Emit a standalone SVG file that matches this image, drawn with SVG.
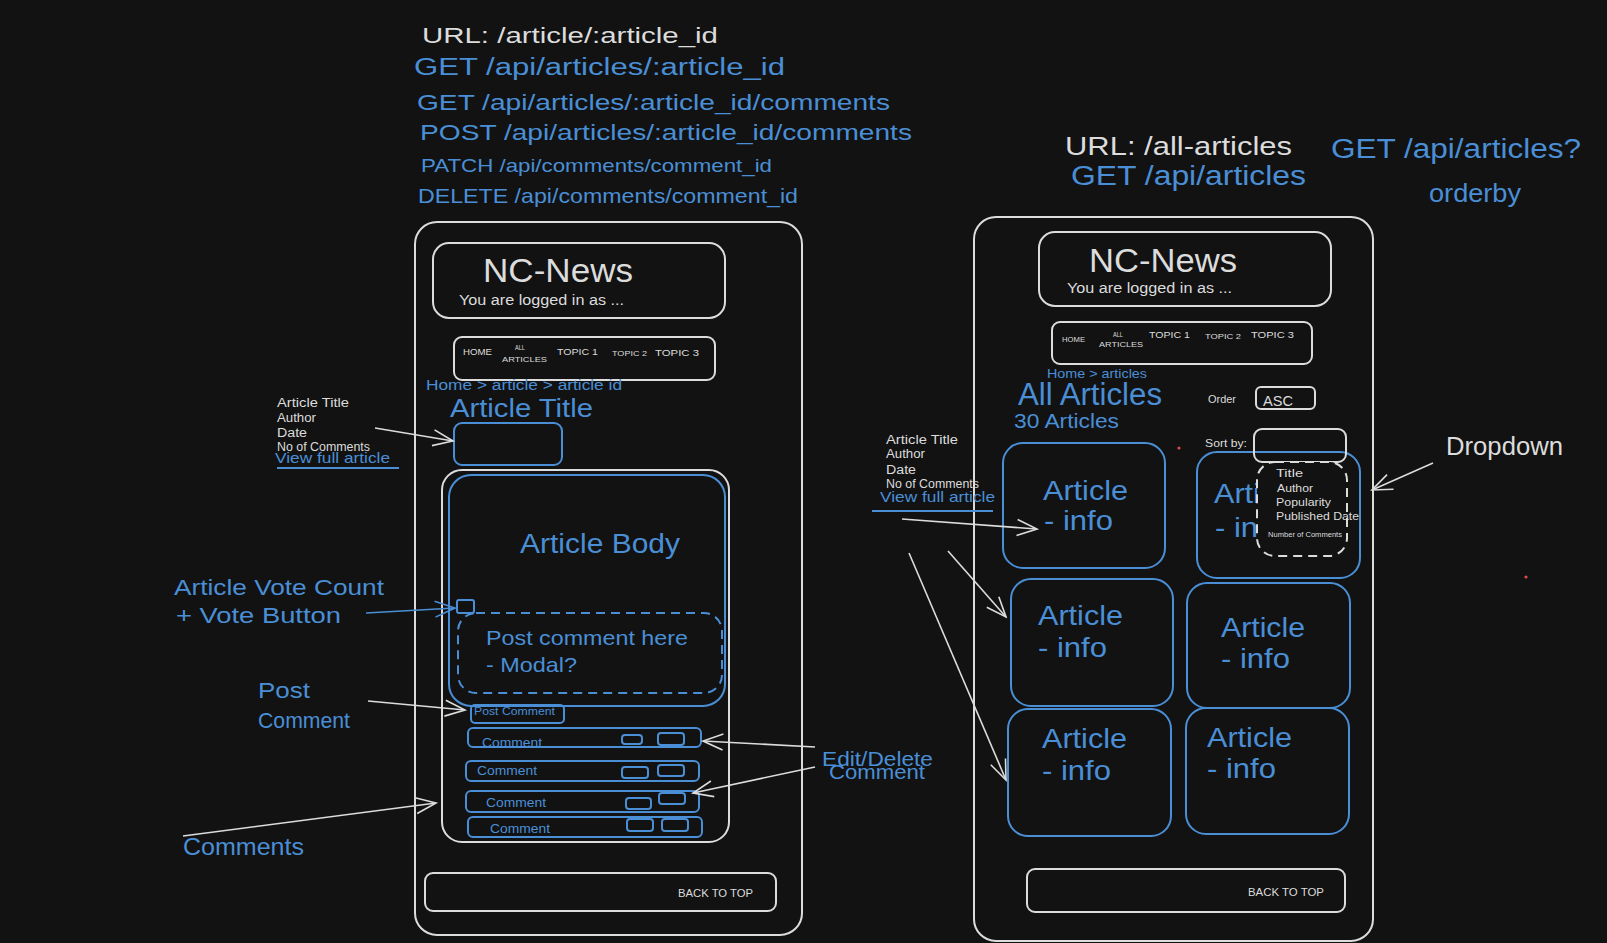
<svg xmlns="http://www.w3.org/2000/svg" width="1607" height="943" viewBox="0 0 1607 943">
<defs>
<style>
text{font-family:"Liberation Sans",Arial,sans-serif;}
.tw{fill:#dcdcdc;}
.tb{fill:#4a8fd6;}
.w{fill:none;stroke:#dcdcdc;stroke-width:2;}
.b{fill:none;stroke:#4a8fd6;stroke-width:2;}
.bd{fill:none;stroke:#4a8fd6;stroke-width:2;stroke-dasharray:9 6;}
.wd{fill:#121212;stroke:#dcdcdc;stroke-width:2;stroke-dasharray:9 6;}
.cw{fill:none;stroke:#dcdcdc;stroke-width:1.6;marker-end:url(#aw);}
.cb{fill:none;stroke:#4a8fd6;stroke-width:1.6;marker-end:url(#ab);}
.ul{stroke:#4a8fd6;stroke-width:2;}
</style>
<marker id="aw" markerUnits="userSpaceOnUse" markerWidth="24" markerHeight="20" refX="22" refY="10" orient="auto"><path d="M2,2 L22,10 L2,18" fill="none" stroke="#dcdcdc" stroke-width="1.6"/></marker>
<marker id="ab" markerUnits="userSpaceOnUse" markerWidth="24" markerHeight="20" refX="22" refY="10" orient="auto"><path d="M2,2 L22,10 L2,18" fill="none" stroke="#4a8fd6" stroke-width="1.6"/></marker>
</defs>
<rect x="0" y="0" width="1607" height="943" fill="#121212"/>

<g id="api-left">
<text class="tw" x="422" y="43" font-size="22" textLength="296" lengthAdjust="spacingAndGlyphs">URL: /article/:article_id</text>
<text class="tb" x="414" y="75" font-size="23" textLength="371" lengthAdjust="spacingAndGlyphs">GET /api/articles/:article_id</text>
<text class="tb" x="417" y="110" font-size="22" textLength="473" lengthAdjust="spacingAndGlyphs">GET /api/articles/:article_id/comments</text>
<text class="tb" x="420" y="140" font-size="22" textLength="492" lengthAdjust="spacingAndGlyphs">POST /api/articles/:article_id/comments</text>
<text class="tb" x="421" y="172" font-size="19" textLength="351" lengthAdjust="spacingAndGlyphs">PATCH /api/comments/comment_id</text>
<text class="tb" x="418" y="203" font-size="21" textLength="380" lengthAdjust="spacingAndGlyphs">DELETE /api/comments/comment_id</text>
</g>

<g id="left-frame">
<rect class="w" x="415" y="222" width="387" height="713" rx="22"/>
</g>
<g id="left-header">
<rect class="w" x="433" y="243" width="292" height="75" rx="16"/>
<text class="tw" x="483" y="282" font-size="34" textLength="150" lengthAdjust="spacingAndGlyphs">NC-News</text>
<text class="tw" x="459" y="305" font-size="14" textLength="165" lengthAdjust="spacingAndGlyphs">You are logged in as ...</text>
</g>
<g id="left-nav">
<rect class="w" x="454" y="337" width="261" height="43" rx="8"/>
<text class="tw" x="463" y="355" font-size="9" textLength="29" lengthAdjust="spacingAndGlyphs">HOME</text>
<text class="tw" x="515" y="350" font-size="7" textLength="10" lengthAdjust="spacingAndGlyphs">ALL</text>
<text class="tw" x="502" y="362" font-size="8" textLength="45" lengthAdjust="spacingAndGlyphs">ARTICLES</text>
<text class="tw" x="557" y="355" font-size="9" textLength="41" lengthAdjust="spacingAndGlyphs">TOPIC 1</text>
<text class="tw" x="612" y="356" font-size="8" textLength="35" lengthAdjust="spacingAndGlyphs">TOPIC 2</text>
<text class="tw" x="655" y="356" font-size="9" textLength="44" lengthAdjust="spacingAndGlyphs">TOPIC 3</text>
</g>
<g id="left-breadcrumb">
<text class="tb" x="426" y="390" font-size="14" textLength="196" lengthAdjust="spacingAndGlyphs">Home &gt; article &gt; article id</text>
<text class="tb" x="450" y="417" font-size="25" textLength="143" lengthAdjust="spacingAndGlyphs">Article Title</text>
</g>
<g id="left-title-box">
<rect class="b" x="454" y="423" width="108" height="42" rx="8"/>
</g>
<g id="left-annotation-card">
<text class="tw" x="277" y="407" font-size="12" textLength="72" lengthAdjust="spacingAndGlyphs">Article Title</text>
<text class="tw" x="277" y="422" font-size="12" textLength="39" lengthAdjust="spacingAndGlyphs">Author</text>
<text class="tw" x="277" y="437" font-size="12" textLength="30" lengthAdjust="spacingAndGlyphs">Date</text>
<text class="tw" x="277" y="451" font-size="12" textLength="93" lengthAdjust="spacingAndGlyphs">No of Comments</text>
<text class="tb" x="275" y="463" font-size="15" textLength="115" lengthAdjust="spacingAndGlyphs">View full article</text>
<line class="ul" x1="277" y1="468" x2="399" y2="468"/>
</g>
<g id="left-comments-container">
<rect class="w" x="442" y="470" width="287" height="372" rx="20"/>
</g>
<g id="left-article-body">
<rect class="b" x="449" y="475" width="276" height="231" rx="22"/>
<text class="tb" x="520" y="553" font-size="27" textLength="160" lengthAdjust="spacingAndGlyphs">Article Body</text>
</g>
<g id="left-vote-button">
<rect class="b" x="457" y="600" width="17" height="13" rx="2"/>
</g>
<g id="left-post-modal">
<rect class="bd" x="458" y="613" width="264" height="80" rx="18"/>
<text class="tb" x="486" y="645" font-size="21" textLength="202" lengthAdjust="spacingAndGlyphs">Post comment here</text>
<text class="tb" x="486" y="672" font-size="21" textLength="91" lengthAdjust="spacingAndGlyphs">- Modal?</text>
</g>
<g id="left-post-comment-btn">
<rect class="b" x="471" y="705" width="93" height="18" rx="4"/>
<text class="tb" x="474" y="715" font-size="11" textLength="81" lengthAdjust="spacingAndGlyphs">Post Comment</text>
</g>
<g id="comment-1">
<rect class="b" x="468" y="728" width="233" height="19" rx="5"/>
<text class="tb" x="482" y="747" font-size="13" textLength="60" lengthAdjust="spacingAndGlyphs">Comment</text>
<rect class="b" x="622" y="735" width="20" height="9" rx="3"/>
<rect class="b" x="658" y="733" width="26" height="12" rx="3"/>
</g>
<g id="comment-2">
<rect class="b" x="466" y="761" width="233" height="20" rx="5"/>
<text class="tb" x="477" y="775" font-size="13" textLength="60" lengthAdjust="spacingAndGlyphs">Comment</text>
<rect class="b" x="622" y="767" width="26" height="11" rx="3"/>
<rect class="b" x="658" y="765" width="26" height="11" rx="3"/>
</g>
<g id="comment-3">
<rect class="b" x="466" y="791" width="233" height="21" rx="5"/>
<text class="tb" x="486" y="807" font-size="13" textLength="60" lengthAdjust="spacingAndGlyphs">Comment</text>
<rect class="b" x="626" y="798" width="25" height="11" rx="3"/>
<rect class="b" x="659" y="793" width="26" height="11" rx="3"/>
</g>
<g id="comment-4">
<rect class="b" x="468" y="817" width="234" height="20" rx="5"/>
<text class="tb" x="490" y="833" font-size="13" textLength="60" lengthAdjust="spacingAndGlyphs">Comment</text>
<rect class="b" x="627" y="819" width="26" height="12" rx="3"/>
<rect class="b" x="662" y="819" width="26" height="12" rx="3"/>
</g>
<g id="left-back-to-top">
<rect class="w" x="425" y="873" width="351" height="38" rx="8"/>
<text class="tw" x="678" y="897" font-size="11" textLength="75" lengthAdjust="spacingAndGlyphs">BACK TO TOP</text>
</g>

<g id="label-vote">
<text class="tb" x="174" y="595" font-size="22" textLength="210" lengthAdjust="spacingAndGlyphs">Article Vote Count</text>
<text class="tb" x="176" y="623" font-size="22" textLength="165" lengthAdjust="spacingAndGlyphs">+ Vote Button</text>
</g>
<g id="label-post-comment">
<text class="tb" x="258" y="698" font-size="22" textLength="52" lengthAdjust="spacingAndGlyphs">Post</text>
<text class="tb" x="258" y="728" font-size="22" textLength="92" lengthAdjust="spacingAndGlyphs">Comment</text>
</g>
<g id="label-comments">
<text class="tb" x="183" y="855" font-size="24" textLength="121" lengthAdjust="spacingAndGlyphs">Comments</text>
</g>
<g id="label-edit-delete">
<text class="tb" x="822" y="766" font-size="21" textLength="111" lengthAdjust="spacingAndGlyphs">Edit/Delete</text>
<text class="tb" x="829" y="779" font-size="21" textLength="96" lengthAdjust="spacingAndGlyphs">Comment</text>
</g>

<g id="api-right">
<text class="tw" x="1065" y="155" font-size="26" textLength="227" lengthAdjust="spacingAndGlyphs">URL: /all-articles</text>
<text class="tb" x="1071" y="185" font-size="27" textLength="235" lengthAdjust="spacingAndGlyphs">GET /api/articles</text>
<text class="tb" x="1331" y="158" font-size="27" textLength="250" lengthAdjust="spacingAndGlyphs">GET /api/articles?</text>
<text class="tb" x="1429" y="202" font-size="26" textLength="92" lengthAdjust="spacingAndGlyphs">orderby</text>
</g>

<g id="right-frame">
<rect class="w" x="974" y="217" width="399" height="724" rx="22"/>
</g>
<g id="right-header">
<rect class="w" x="1039" y="232" width="292" height="74" rx="16"/>
<text class="tw" x="1089" y="272" font-size="34" textLength="148" lengthAdjust="spacingAndGlyphs">NC-News</text>
<text class="tw" x="1067" y="293" font-size="14" textLength="165" lengthAdjust="spacingAndGlyphs">You are logged in as ...</text>
</g>
<g id="right-nav">
<rect class="w" x="1052" y="322" width="260" height="42" rx="8"/>
<text class="tw" x="1062" y="342" font-size="8" textLength="23" lengthAdjust="spacingAndGlyphs">HOME</text>
<text class="tw" x="1113" y="337" font-size="7" textLength="10" lengthAdjust="spacingAndGlyphs">ALL</text>
<text class="tw" x="1099" y="347" font-size="8" textLength="44" lengthAdjust="spacingAndGlyphs">ARTICLES</text>
<text class="tw" x="1149" y="338" font-size="9" textLength="41" lengthAdjust="spacingAndGlyphs">TOPIC 1</text>
<text class="tw" x="1205" y="339" font-size="8" textLength="36" lengthAdjust="spacingAndGlyphs">TOPIC 2</text>
<text class="tw" x="1251" y="338" font-size="9" textLength="43" lengthAdjust="spacingAndGlyphs">TOPIC 3</text>
</g>
<g id="right-headings">
<text class="tb" x="1047" y="378" font-size="13" textLength="100" lengthAdjust="spacingAndGlyphs">Home &gt; articles</text>
<text class="tb" x="1018" y="405" font-size="31" textLength="144" lengthAdjust="spacingAndGlyphs">All Articles</text>
<text class="tb" x="1014" y="428" font-size="20" textLength="105" lengthAdjust="spacingAndGlyphs">30 Articles</text>
</g>
<g id="right-order">
<text class="tw" x="1208" y="403" font-size="11" textLength="28" lengthAdjust="spacingAndGlyphs">Order</text>
<rect class="w" x="1256" y="387" width="59" height="22" rx="5"/>
<text class="tw" x="1263" y="406" font-size="15" textLength="30" lengthAdjust="spacingAndGlyphs">ASC</text>
</g>
<g id="right-annotation-card">
<text class="tw" x="886" y="444" font-size="12" textLength="72" lengthAdjust="spacingAndGlyphs">Article Title</text>
<text class="tw" x="886" y="458" font-size="12" textLength="39" lengthAdjust="spacingAndGlyphs">Author</text>
<text class="tw" x="886" y="474" font-size="12" textLength="30" lengthAdjust="spacingAndGlyphs">Date</text>
<text class="tw" x="886" y="488" font-size="12" textLength="93" lengthAdjust="spacingAndGlyphs">No of Comments</text>
<text class="tb" x="880" y="502" font-size="15" textLength="115" lengthAdjust="spacingAndGlyphs">View full article</text>
<line class="ul" x1="872" y1="511" x2="993" y2="511"/>
</g>
<g id="article-card-1">
<rect class="b" x="1003" y="443" width="162" height="125" rx="20"/>
<text class="tb" x="1043" y="500" font-size="28" textLength="85" lengthAdjust="spacingAndGlyphs">Article</text>
<text class="tb" x="1044" y="530" font-size="28" textLength="69" lengthAdjust="spacingAndGlyphs">- info</text>
</g>
<g id="article-card-2">
<rect class="b" x="1197" y="452" width="163" height="126" rx="20"/>
<text class="tb" x="1214" y="503" font-size="28" textLength="85" lengthAdjust="spacingAndGlyphs">Article</text>
<text class="tb" x="1215" y="537" font-size="28" textLength="69" lengthAdjust="spacingAndGlyphs">- info</text>
</g>
<g id="article-card-3">
<rect class="b" x="1011" y="579" width="162" height="127" rx="20"/>
<text class="tb" x="1038" y="625" font-size="28" textLength="85" lengthAdjust="spacingAndGlyphs">Article</text>
<text class="tb" x="1038" y="657" font-size="28" textLength="69" lengthAdjust="spacingAndGlyphs">- info</text>
</g>
<g id="article-card-4">
<rect class="b" x="1187" y="583" width="163" height="125" rx="20"/>
<text class="tb" x="1221" y="637" font-size="28" textLength="84" lengthAdjust="spacingAndGlyphs">Article</text>
<text class="tb" x="1221" y="668" font-size="28" textLength="69" lengthAdjust="spacingAndGlyphs">- info</text>
</g>
<g id="article-card-5">
<rect class="b" x="1008" y="709" width="163" height="127" rx="20"/>
<text class="tb" x="1042" y="748" font-size="28" textLength="85" lengthAdjust="spacingAndGlyphs">Article</text>
<text class="tb" x="1042" y="780" font-size="28" textLength="69" lengthAdjust="spacingAndGlyphs">- info</text>
</g>
<g id="article-card-6">
<rect class="b" x="1186" y="708" width="163" height="126" rx="20"/>
<text class="tb" x="1207" y="747" font-size="28" textLength="85" lengthAdjust="spacingAndGlyphs">Article</text>
<text class="tb" x="1207" y="778" font-size="28" textLength="69" lengthAdjust="spacingAndGlyphs">- info</text>
</g>
<g id="right-sort">
<text class="tw" x="1205" y="447" font-size="11" textLength="42" lengthAdjust="spacingAndGlyphs">Sort by:</text>
<rect class="w" x="1254" y="429" width="92" height="33" rx="8"/>
</g>
<g id="right-dropdown">
<rect class="wd" x="1257" y="462" width="90" height="94" rx="18"/>
<text class="tw" x="1276" y="477" font-size="11" textLength="27" lengthAdjust="spacingAndGlyphs">Title</text>
<text class="tw" x="1277" y="492" font-size="11" textLength="36" lengthAdjust="spacingAndGlyphs">Author</text>
<text class="tw" x="1276" y="506" font-size="11" textLength="55" lengthAdjust="spacingAndGlyphs">Popularity</text>
<text class="tw" x="1276" y="520" font-size="11" textLength="83" lengthAdjust="spacingAndGlyphs">Published Date</text>
<text class="tw" x="1268" y="537" font-size="8" textLength="74" lengthAdjust="spacingAndGlyphs">Number of Comments</text>
</g>
<g id="right-back-to-top">
<rect class="w" x="1027" y="869" width="318" height="43" rx="8"/>
<text class="tw" x="1248" y="896" font-size="11" textLength="76" lengthAdjust="spacingAndGlyphs">BACK TO TOP</text>
</g>
<g id="label-dropdown">
<text class="tw" x="1446" y="455" font-size="25" textLength="117" lengthAdjust="spacingAndGlyphs">Dropdown</text>
</g>
<g id="dots">
<circle cx="1179" cy="448" r="1.6" fill="#e0484d"/>
<circle cx="1526" cy="577" r="1.6" fill="#e0484d"/>
</g>

<g id="connectors">
<path class="cw" d="M375,428 L453,441"/>
<path class="cb" d="M366,613 L455,608"/>
<path class="cw" d="M368,701 L465,710"/>
<path class="cw" d="M183,836 L436,803"/>
<path class="cw" d="M815,747 L703,741"/>
<path class="cw" d="M815,767 L693,793"/>
<path class="cw" d="M902,519 L1037,529"/>
<path class="cw" d="M948,551 L1006,617"/>
<path class="cw" d="M909,553 L1006,780"/>
<path class="cw" d="M1433,463 L1372,490"/>
</g>
</svg>
